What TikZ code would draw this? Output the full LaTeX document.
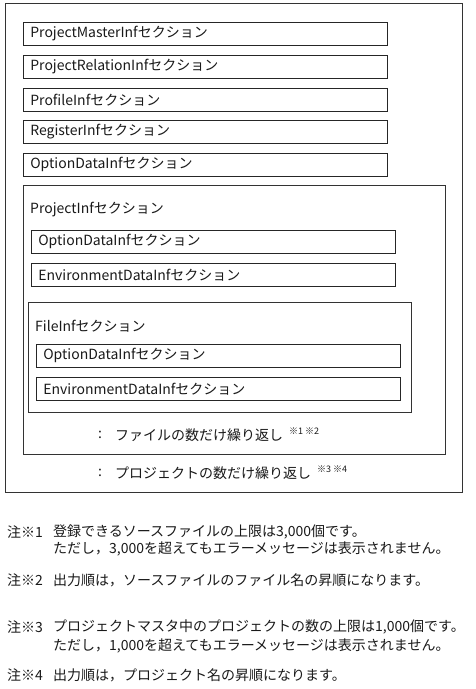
\documentclass[tikz,border=0pt]{standalone}
\usepackage{fontspec}
\setmainfont{Noto Sans CJK JP}
\tikzset{
  lbl/.style={anchor=west, inner sep=0pt, font=\fontsize{14}{16}\selectfont, text=black!90},
  sbox/.style={draw=black!85, line width=0.7pt, anchor=north west, minimum height=23pt,
    inner xsep=7pt, inner ysep=0pt, text width=350pt, align=left,
    font=\fontsize{14}{16}\selectfont, text=black!90},
  frame/.style={draw=black!80, line width=0.7pt, anchor=north west, inner sep=0pt},
  sup/.style={anchor=west, inner sep=0pt, font=\fontsize{9}{10}\selectfont, text=black!90},
}
\begin{document}
\begin{tikzpicture}[x=1pt,y=-1pt]
\useasboundingbox (0,0) rectangle (475,689);
% outer frame
\node[frame, minimum width=457pt, minimum height=489pt] (outer) at (5,3) {};
% top level sections
\node[sbox] (pm) at (23,22) {ProjectMasterInfセクション};
\node[sbox] (pr) at (23,55) {ProjectRelationInfセクション};
\node[sbox] (pf) at (23,88) {ProfileInfセクション};
\node[sbox] (rg) at (23,120) {RegisterInfセクション};
\node[sbox] (od) at (23,153) {OptionDataInfセクション};
% ProjectInf
\node[frame, minimum width=422pt, minimum height=269pt] (proj) at (23,185) {};
\node[lbl] (projl) at (30,210) {ProjectInfセクション};
\node[sbox] (pod) at (31,230) {OptionDataInfセクション};
\node[sbox] (ped) at (31,263) {EnvironmentDataInfセクション};
% FileInf
\node[frame, minimum width=383pt, minimum height=110pt] (file) at (28,302) {};
\node[lbl] (filel) at (35,326) {FileInfセクション};
\node[sbox] (fod) at (36,344) {OptionDataInfセクション};
\node[sbox] (fed) at (36,377) {EnvironmentDataInfセクション};
% repeat notes
\node[lbl] (c1) at (98,435) {:};
\node[lbl] (r1) at (115,435) {ファイルの数だけ繰り返し};
\node[sup] (s1) at (289,431) {※1 ※2};
\node[lbl] (c2) at (98,473) {:};
\node[lbl] (r2) at (115,473) {プロジェクトの数だけ繰り返し};
\node[sup] (s2) at (317,469) {※3 ※4};
% footnotes
\node[lbl] (n1) at (7,532) {注※1};
\node[lbl] (n1a) at (53,532) {登録できるソースファイルの上限は3,000個です。};
\node[lbl] (n1b) at (53,549) {ただし，3,000を超えてもエラーメッセージは表示されません。};
\node[lbl] (n2) at (7,580) {注※2};
\node[lbl] (n2a) at (53,580) {出力順は，ソースファイルのファイル名の昇順になります。};
\node[lbl] (n3) at (7,627) {注※3};
\node[lbl] (n3a) at (53,627) {プロジェクトマスタ中のプロジェクトの数の上限は1,000個です。};
\node[lbl] (n3b) at (53,646) {ただし，1,000を超えてもエラーメッセージは表示されません。};
\node[lbl] (n4) at (7,675) {注※4};
\node[lbl] (n4a) at (53,675) {出力順は，プロジェクト名の昇順になります。};
\end{tikzpicture}
\end{document}
